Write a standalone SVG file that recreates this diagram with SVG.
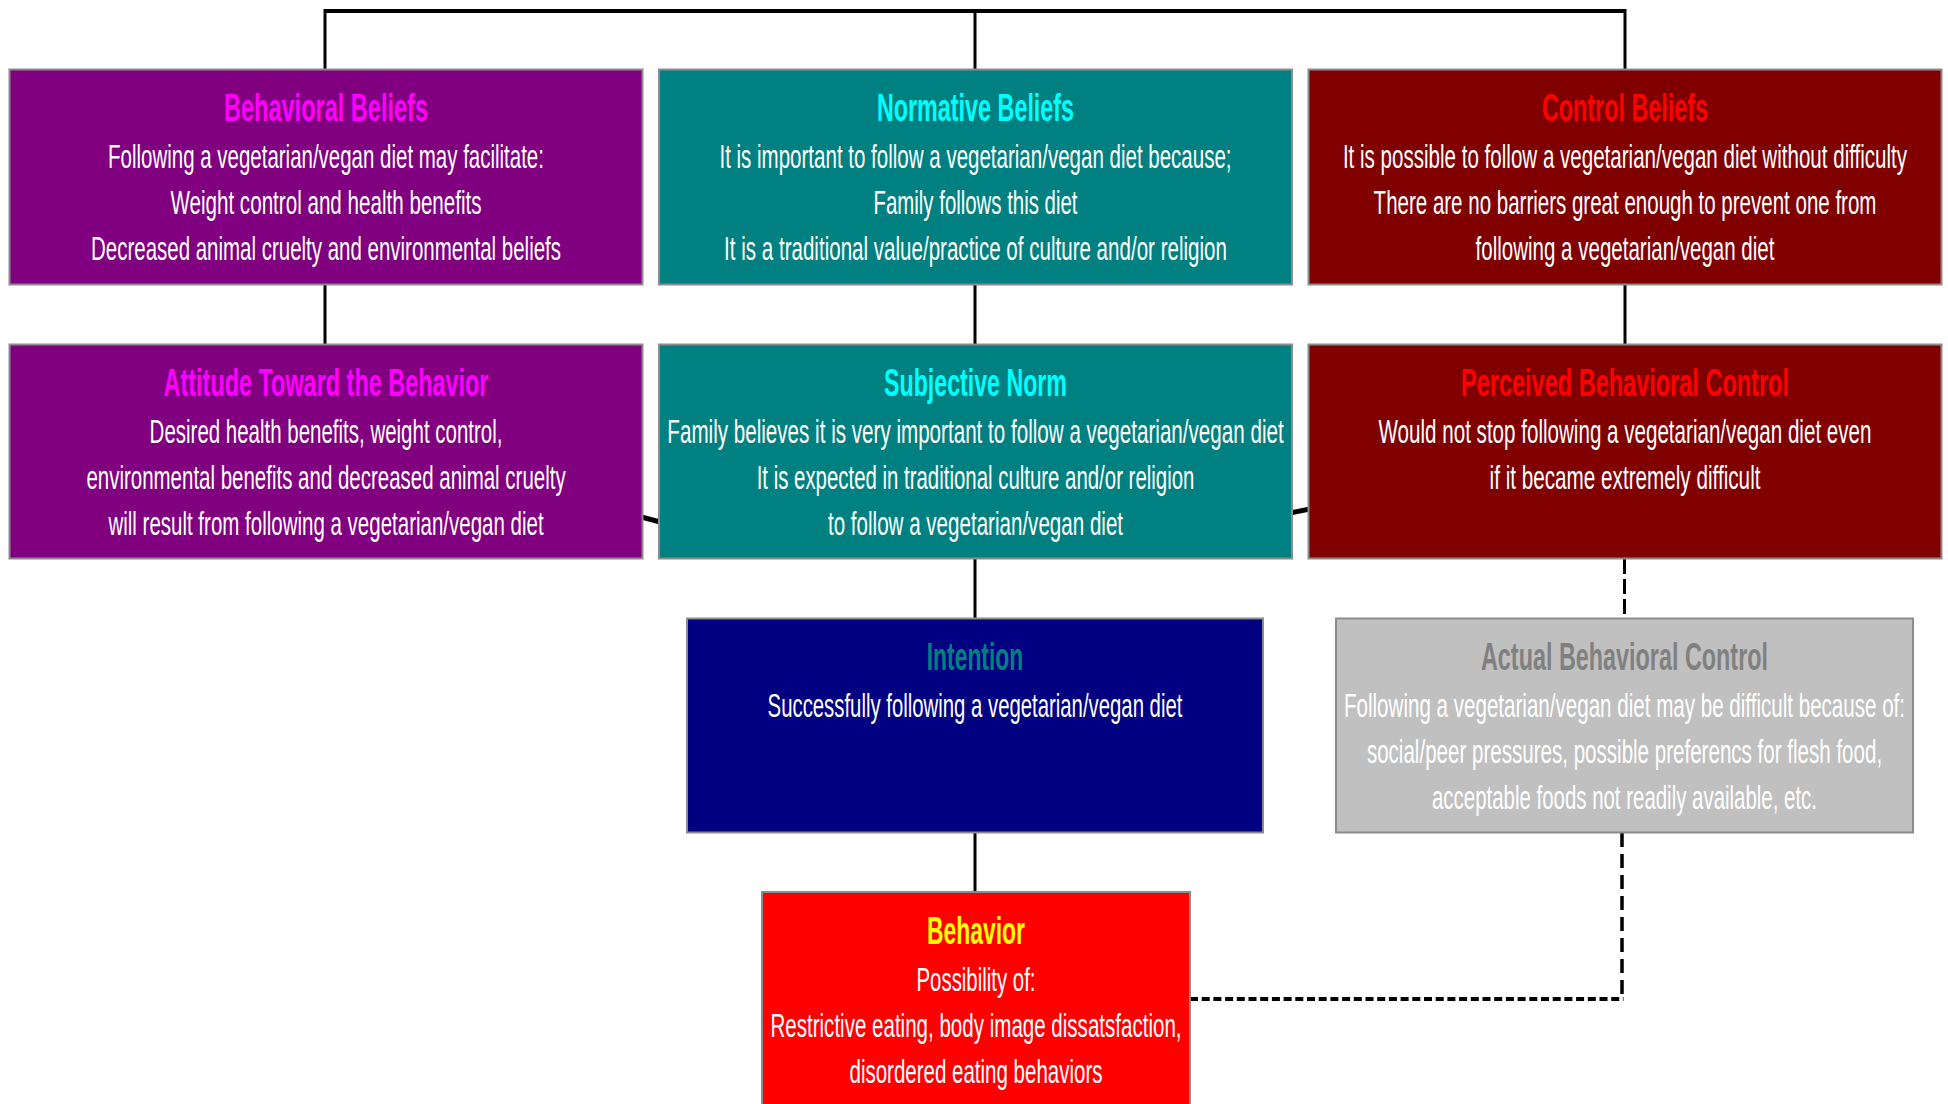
<svg xmlns="http://www.w3.org/2000/svg" width="1948" height="1104" viewBox="0 0 1948 1104">
<style>
  .box { stroke: #8c8c8c; stroke-width: 2; }
  .t { font-family: "Liberation Sans", Arial, sans-serif; font-weight: bold; font-size: 38px; text-anchor: middle; }
  .b { font-family: "Liberation Sans", Arial, sans-serif; font-size: 33px; fill: #ffffff; text-anchor: middle; }
  .ln { stroke: #000000; stroke-width: 3; fill: none; }
  .dg { stroke: #000000; stroke-width: 5; fill: none; }
</style>
<rect width="1948" height="1104" fill="#ffffff"/>
<g id="connectors">
  <line class="ln" x1="325" y1="11" x2="1625" y2="11" style="stroke-width:4"/>
  <line class="ln" x1="325" y1="9" x2="325" y2="70"/>
  <line class="ln" x1="975" y1="11" x2="975" y2="70"/>
  <line class="ln" x1="1625" y1="9" x2="1625" y2="70"/>
  <line class="ln" x1="325" y1="284" x2="325" y2="345"/>
  <line class="ln" x1="975" y1="284" x2="975" y2="345"/>
  <line class="ln" x1="1625" y1="284" x2="1625" y2="345"/>
  <line class="ln" x1="975" y1="558" x2="975" y2="619"/>
  <line class="ln" x1="975" y1="832" x2="975" y2="893"/>
  <line class="dg" x1="600" y1="506" x2="700" y2="532.5"/>
  <line class="dg" x1="1250" y1="521" x2="1350" y2="501"/>
  <line class="ln" x1="1624.5" y1="559" x2="1624.5" y2="618" stroke-dasharray="15 5"/>
  <line class="ln" x1="1622" y1="833" x2="1622" y2="1001" stroke-dasharray="14 7" style="stroke-width:3.5"/>
  <line class="ln" x1="1190" y1="999" x2="1623.5" y2="999" stroke-dasharray="8 3.7" style="stroke-width:4"/>
</g>
<g id="behavioral-beliefs">
  <rect class="box" x="9.5" y="69.5" width="633" height="215" fill="#800080"/>
  <g transform="translate(326 0) scale(0.62 1)">
    <text class="t" x="0" y="121.5" fill="#ff00ff" textLength="329" lengthAdjust="spacingAndGlyphs">Behavioral Beliefs</text>
    <text class="b" x="0" y="168.5" textLength="703" lengthAdjust="spacingAndGlyphs">Following a vegetarian/vegan diet may facilitate:</text>
    <text class="b" x="0" y="214.5" textLength="502" lengthAdjust="spacingAndGlyphs">Weight control and health benefits</text>
    <text class="b" x="0" y="260.5" textLength="758" lengthAdjust="spacingAndGlyphs">Decreased animal cruelty and environmental beliefs</text>
  </g>
</g>
<g id="normative-beliefs">
  <rect class="box" x="659" y="69.5" width="633" height="215" fill="#008080"/>
  <g transform="translate(975.5 0) scale(0.62 1)">
    <text class="t" x="0" y="121.5" fill="#00ffff" textLength="318" lengthAdjust="spacingAndGlyphs">Normative Beliefs</text>
    <text class="b" x="0" y="168.5" textLength="826" lengthAdjust="spacingAndGlyphs">It is important to follow a vegetarian/vegan diet because;</text>
    <text class="b" x="0" y="214.5" textLength="329" lengthAdjust="spacingAndGlyphs">Family follows this diet</text>
    <text class="b" x="0" y="260.5" textLength="811" lengthAdjust="spacingAndGlyphs">It is a traditional value/practice of culture and/or religion</text>
  </g>
</g>
<g id="control-beliefs">
  <rect class="box" x="1308.5" y="69.5" width="633" height="215" fill="#800000"/>
  <g transform="translate(1625 0) scale(0.62 1)">
    <text class="t" x="0" y="121.5" fill="#ff0000" textLength="268" lengthAdjust="spacingAndGlyphs">Control Beliefs</text>
    <text class="b" x="0" y="168.5" textLength="910" lengthAdjust="spacingAndGlyphs">It is possible to follow a vegetarian/vegan diet without difficulty</text>
    <text class="b" x="0" y="214.5" textLength="811" lengthAdjust="spacingAndGlyphs">There are no barriers great enough to prevent one from</text>
    <text class="b" x="0" y="260.5" textLength="482" lengthAdjust="spacingAndGlyphs">following a vegetarian/vegan diet</text>
  </g>
</g>
<g id="attitude">
  <rect class="box" x="9.5" y="344.5" width="633" height="214" fill="#800080"/>
  <g transform="translate(326 0) scale(0.62 1)">
    <text class="t" x="0" y="396.5" fill="#ff00ff" textLength="524" lengthAdjust="spacingAndGlyphs">Attitude Toward the Behavior</text>
    <text class="b" x="0" y="443.5" textLength="569" lengthAdjust="spacingAndGlyphs">Desired health benefits, weight control,</text>
    <text class="b" x="0" y="489.5" textLength="773" lengthAdjust="spacingAndGlyphs">environmental benefits and decreased animal cruelty</text>
    <text class="b" x="0" y="535.5" textLength="702" lengthAdjust="spacingAndGlyphs">will result from following a vegetarian/vegan diet</text>
  </g>
</g>
<g id="subjective-norm">
  <rect class="box" x="659" y="344.5" width="633" height="214" fill="#008080"/>
  <g transform="translate(975.5 0) scale(0.62 1)">
    <text class="t" x="0" y="396.5" fill="#00ffff" textLength="295" lengthAdjust="spacingAndGlyphs">Subjective Norm</text>
    <text class="b" x="0" y="443.5" textLength="994" lengthAdjust="spacingAndGlyphs">Family believes it is very important to follow a vegetarian/vegan diet</text>
    <text class="b" x="0" y="489.5" textLength="706" lengthAdjust="spacingAndGlyphs">It is expected in traditional culture and/or religion</text>
    <text class="b" x="0" y="535.5" textLength="476" lengthAdjust="spacingAndGlyphs">to follow a vegetarian/vegan diet</text>
  </g>
</g>
<g id="perceived-behavioral-control">
  <rect class="box" x="1308.5" y="344.5" width="633" height="214" fill="#800000"/>
  <g transform="translate(1625 0) scale(0.62 1)">
    <text class="t" x="0" y="396.5" fill="#ff0000" textLength="529" lengthAdjust="spacingAndGlyphs">Perceived Behavioral Control</text>
    <text class="b" x="0" y="443.5" textLength="795" lengthAdjust="spacingAndGlyphs">Would not stop following a vegetarian/vegan diet even</text>
    <text class="b" x="0" y="489.5" textLength="437" lengthAdjust="spacingAndGlyphs">if it became extremely difficult</text>
  </g>
</g>
<g id="intention">
  <rect class="box" x="687" y="618.5" width="576" height="214" fill="#000080"/>
  <g transform="translate(975 0) scale(0.62 1)">
    <text class="t" x="0" y="670.5" fill="#008080" textLength="156" lengthAdjust="spacingAndGlyphs">Intention</text>
    <text class="b" x="0" y="717.5" textLength="669" lengthAdjust="spacingAndGlyphs">Successfully following a vegetarian/vegan diet</text>
  </g>
</g>
<g id="actual-behavioral-control">
  <rect class="box" x="1336" y="618.5" width="577" height="214" fill="#c0c0c0"/>
  <g transform="translate(1624.5 0) scale(0.62 1)">
    <text class="t" x="0" y="670.5" fill="#808080" textLength="463" lengthAdjust="spacingAndGlyphs">Actual Behavioral Control</text>
    <text class="b" x="0" y="717.5" textLength="905" lengthAdjust="spacingAndGlyphs">Following a vegetarian/vegan diet may be difficult because of:</text>
    <text class="b" x="0" y="763.5" textLength="831" lengthAdjust="spacingAndGlyphs">social/peer pressures, possible preferencs for flesh food,</text>
    <text class="b" x="0" y="809.5" textLength="621" lengthAdjust="spacingAndGlyphs">acceptable foods not readily available, etc.</text>
  </g>
</g>
<g id="behavior">
  <rect class="box" x="762" y="892" width="428" height="230" fill="#ff0000"/>
  <g transform="translate(976 0) scale(0.62 1)">
    <text class="t" x="0" y="944" fill="#ffff00" textLength="158" lengthAdjust="spacingAndGlyphs">Behavior</text>
    <text class="b" x="0" y="991" textLength="192" lengthAdjust="spacingAndGlyphs">Possibility of:</text>
    <text class="b" x="0" y="1037" textLength="663" lengthAdjust="spacingAndGlyphs">Restrictive eating, body image dissatsfaction,</text>
    <text class="b" x="0" y="1083" textLength="408" lengthAdjust="spacingAndGlyphs">disordered eating behaviors</text>
  </g>
</g>
</svg>
